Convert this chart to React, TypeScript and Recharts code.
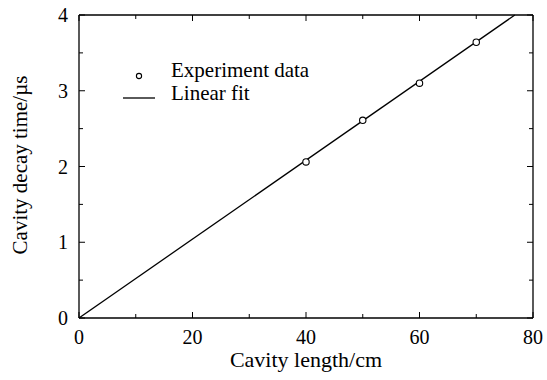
import {
  ComposedChart,
  Label,
  Legend,
  Line,
  Scatter,
  XAxis,
  YAxis,
} from "recharts";

const FONT = "'Liberation Serif', 'Times New Roman', serif";

// measured points
const lengths = [40, 50, 60, 70];
const decayTimes = [2.06, 2.61, 3.1, 3.64];

// linear fit end points
const fitLengths = [0, 76.8];
const fitTimes = [0, 4];

const xTicks = [0, 10, 20, 30, 40, 50, 60, 70, 80];
const xMajor = [0, 20, 40, 60, 80];
const yTicks = [0, 0.5, 1, 1.5, 2, 2.5, 3, 3.5, 4];
const yMajor = [0, 1, 2, 3, 4];

const points = lengths.map((x, i) => ({ x, y: decayTimes[i] }));
const fit = fitLengths.map((x, i) => ({ x, y: fitTimes[i] }));

const BottomTick = (props: any) => {
  const { x, y, payload } = props;
  const major = xMajor.includes(payload.value);
  return (
    <g>
      <line x1={x} y1={y} x2={x} y2={y - (major ? 6 : 4)} stroke="#000" strokeWidth={1} />
      {major && (
        <text x={x} y={y + 26} textAnchor="middle" fontSize={20} fontFamily={FONT} fill="#000">
          {payload.value}
        </text>
      )}
    </g>
  );
};

const TopTick = (props: any) => {
  const { x, y, payload } = props;
  const major = xMajor.includes(payload.value);
  return <line x1={x} y1={y} x2={x} y2={y + (major ? 6 : 4)} stroke="#000" strokeWidth={1} />;
};

const LeftTick = (props: any) => {
  const { x, y, payload } = props;
  const major = yMajor.includes(payload.value);
  return (
    <g>
      <line x1={x} y1={y} x2={x + (major ? 6 : 4)} y2={y} stroke="#000" strokeWidth={1} />
      {major && (
        <text x={x - 11} y={y + 7} textAnchor="end" fontSize={20} fontFamily={FONT} fill="#000">
          {payload.value}
        </text>
      )}
    </g>
  );
};

const RightTick = (props: any) => {
  const { x, y, payload } = props;
  const major = yMajor.includes(payload.value);
  return <line x1={x} y1={y} x2={x - (major ? 6 : 4)} y2={y} stroke="#000" strokeWidth={1} />;
};

const Dot = (props: any) => {
  const { cx, cy } = props;
  return <circle cx={cx} cy={cy} r={3.2} fill="#fff" stroke="#000" strokeWidth={1.1} />;
};

const YTitle = (props: any) => {
  const { viewBox } = props;
  const cx = 27;
  const cy = viewBox.y + viewBox.height / 2 - 1.5;
  return (
    <text
      x={cx}
      y={cy}
      transform={`rotate(-90, ${cx}, ${cy})`}
      textAnchor="middle"
      fontSize={21}
      fontFamily={FONT}
      fill="#000"
    >
      Cavity decay time/µs
    </text>
  );
};

const renderLegend = () => (
  <div style={{ position: "relative", width: 220, height: 50, fontFamily: FONT, fontSize: 21, color: "#000" }}>
    <div style={{ position: "absolute", top: 0, left: 0, height: 22, lineHeight: "22px", display: "flex" }}>
      <svg width={51} height={22}>
        <circle cx={19} cy={17} r={2.6} fill="#fff" stroke="#000" strokeWidth={1.1} />
      </svg>
      <span>Experiment data</span>
    </div>
    <div style={{ position: "absolute", top: 23, left: 0, height: 22, lineHeight: "22px", display: "flex" }}>
      <svg width={51} height={22}>
        <line x1={3} y1={16} x2={35} y2={16} stroke="#000" strokeWidth={1.3} />
      </svg>
      <span>Linear fit</span>
    </div>
  </div>
);

export default function App() {
  return (
    <div style={{ width: 547, height: 380, background: "#fff" }}>
      <style>{"body{margin:0}"}</style>
      <ComposedChart
        width={547}
        height={380}
        margin={{ top: 14, right: 13, bottom: 0, left: 0 }}
      >
        <XAxis
          dataKey="x"
          type="number"
          domain={[0, 80]}
          ticks={xTicks}
          interval={0}
          height={62}
          tickSize={0}
          tickMargin={0}
          tickLine={false}
          tick={<BottomTick />}
          axisLine={{ stroke: "#000", strokeWidth: 1.3 }}
        >
          <Label
            value="Cavity length/cm"
            position="insideBottom"
            offset={13}
            fontSize={22}
            fontFamily={FONT}
            fill="#000"
          />
        </XAxis>
        <XAxis
          xAxisId="top"
          orientation="top"
          dataKey="x"
          type="number"
          domain={[0, 80]}
          ticks={xTicks}
          interval={0}
          height={1}
          tickSize={0}
          tickMargin={0}
          tickLine={false}
          tick={<TopTick />}
          axisLine={{ stroke: "#000", strokeWidth: 1.3 }}
        />
        <YAxis
          dataKey="y"
          type="number"
          domain={[0, 4]}
          ticks={yTicks}
          interval={0}
          width={79}
          tickSize={0}
          tickMargin={0}
          tickLine={false}
          tick={<LeftTick />}
          axisLine={{ stroke: "#000", strokeWidth: 1.3 }}
        >
          <Label content={<YTitle />} />
        </YAxis>
        <YAxis
          yAxisId="right"
          orientation="right"
          dataKey="y"
          type="number"
          domain={[0, 4]}
          ticks={yTicks}
          interval={0}
          width={1}
          tickSize={0}
          tickMargin={0}
          tickLine={false}
          tick={<RightTick />}
          axisLine={{ stroke: "#000", strokeWidth: 1.3 }}
        />
        <Legend
          layout="horizontal"
          verticalAlign="middle"
          align="center"
          content={renderLegend}
          wrapperStyle={{ left: 120, top: 59, width: 220 }}
        />
        {/* invisible copy so the top and right frame axes get drawn */}
        <Line
          data={fit}
          dataKey="y"
          xAxisId="top"
          yAxisId="right"
          stroke="none"
          dot={false}
          activeDot={false}
          isAnimationActive={false}
          legendType="none"
        />
        <Line
          data={fit}
          dataKey="y"
          type="linear"
          stroke="#000"
          strokeWidth={1.3}
          dot={false}
          activeDot={false}
          isAnimationActive={false}
          legendType="none"
        />
        <Scatter
          data={points}
          dataKey="y"
          shape={<Dot />}
          isAnimationActive={false}
          legendType="none"
        />
      </ComposedChart>
    </div>
  );
}
